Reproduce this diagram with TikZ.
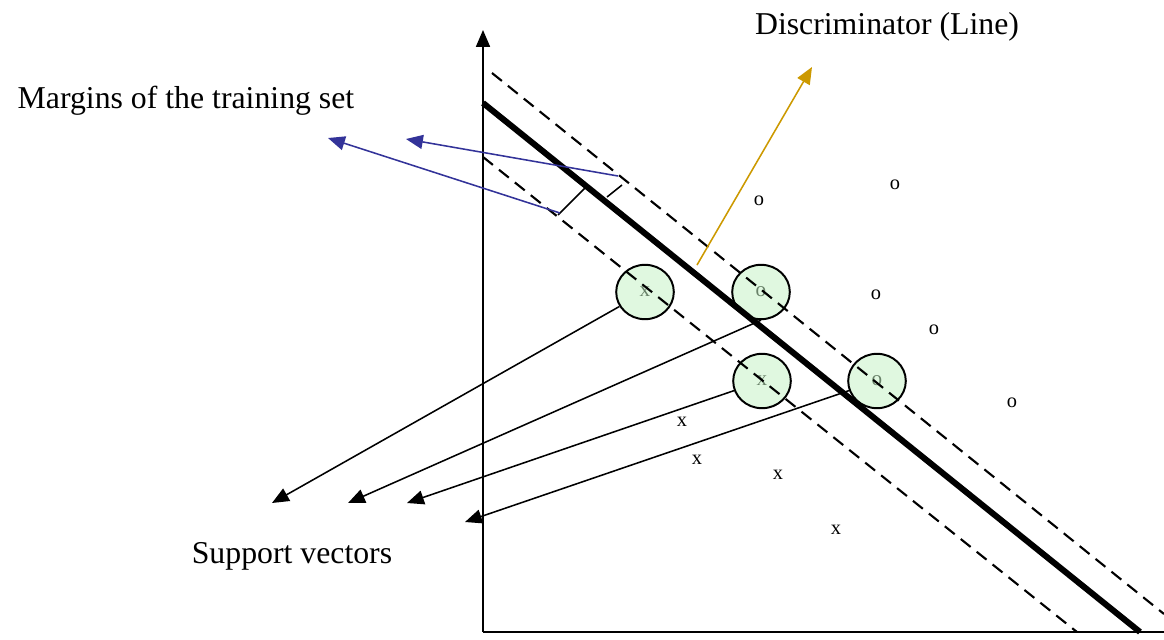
\documentclass[tikz,border=0pt]{standalone}
\usepackage{fontspec}
\setmainfont{Liberation Serif}
\usetikzlibrary{arrows.meta,shapes.geometric}
\definecolor{svfill}{RGB}{224,248,224}
\definecolor{svtext}{RGB}{105,130,105}
\definecolor{marginblue}{RGB}{51,51,153}
\definecolor{discorange}{RGB}{204,153,0}
\tikzset{
  lbl/.style={font=\fontsize{22.6}{27}\selectfont},
  pt/.style={font=\fontsize{14.5}{16}\selectfont,inner sep=0pt},
  sv/.style={ellipse,draw,line width=1.4pt,fill=svfill,text=svtext,font=\fontsize{15}{16}\selectfont,minimum width=1.44cm,minimum height=1.36cm,inner sep=0pt},
  tip/.style={-{Triangle[length=12pt,width=10pt]}},
  margin/.style={line width=1.5pt,dash pattern=on 9pt off 5.5pt}
}
\begin{document}
\begin{tikzpicture}[x=0.025cm,y=-0.025cm]
    \useasboundingbox (0,0) rectangle (1164,639);
    % support vectors
    \node [sv] (svx1) at (645,292) {x};
    \node [sv] (svo1) at (761,292) {o};
    \node [sv] (svx2) at (762,381) {x};
    \node [sv] (svo2) at (877,381) {o};
    % axes
    \coordinate (origin) at (483,632);
    \draw [tip,line width=1.1pt] (origin) -- (483,30);
    \draw [line width=1.3pt] (origin) -- (1164,632);
    % discriminator and margins
    \draw [margin] (492,73) -- (1164,614);
    \draw [margin] (483,157) -- (1077,632);
    \draw [line width=4.3pt] (483,103) -- (1140,632);
    \draw [line width=1.1pt] (558,215) -- (585,188);
    \draw [line width=1.1pt] (607,197) -- (622,185);
    % training points
    \node [pt] (o1) at (759,201) {o};
    \node [pt] (o2) at (895,185) {o};
    \node [pt] (o3) at (876,295) {o};
    \node [pt] (o4) at (934,330) {o};
    \node [pt] (o5) at (1012,403) {o};
    \node [pt] (x1) at (682,422) {x};
    \node [pt] (x2) at (697,460) {x};
    \node [pt] (x3) at (778,475) {x};
    \node [pt] (x4) at (836,530) {x};
    % labels
    \node [lbl] (disc) at (887,27) {Discriminator (Line)};
    \node [lbl] (marg) at (186,101) {Margins of the training set};
    \node [lbl] (supp) at (292,556) {Support vectors};
    % pointers
    \coordinate (margtop) at (618,176);
    \coordinate (margbot) at (560,213);
    \coordinate (margtip1) at (406,139);
    \coordinate (margtip2) at (328,138);
    \draw [tip,marginblue,line width=1.1pt] (margtop) -- (margtip1);
    \draw [tip,marginblue,line width=1.1pt] (margbot) -- (margtip2);
    \coordinate (discfoot) at (697,265);
    \coordinate (disctip) at (812,67);
    \draw [tip,discorange,line width=1.1pt] (discfoot) -- (disctip);
    \coordinate (svtip1) at (272,503);
    \coordinate (svtip2) at (348,503);
    \coordinate (svtip3) at (407,503);
    \coordinate (svtip4) at (465,522);
    \draw [tip,line width=1.1pt] (svx1) -- (svtip1);
    \draw [tip,line width=1.1pt] (svo1.south) -- (svtip2);
    \draw [tip,line width=1.1pt] (svx2) -- (svtip3);
    \draw [tip,line width=1.1pt] (svo2) -- (svtip4);
\end{tikzpicture}
\end{document}
